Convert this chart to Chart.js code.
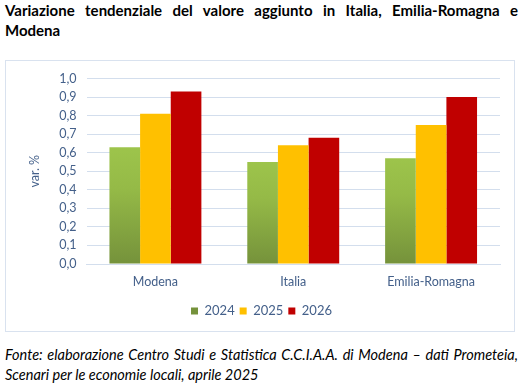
<!DOCTYPE html>
<html>
<head>
<meta charset="utf-8">
<script src="https://cdn.jsdelivr.net/npm/chart.js@4.4.1/dist/chart.umd.min.js"></script>
<style>
    body { margin: 0; background: #fff; width: 522px; height: 390px; position: relative; overflow: hidden; font-family: Lato, 'Open Sans', sans-serif; }
    .title { position: absolute; left: 5px; top: 1px; width: 513px; font-weight: bold; font-size: 15px; line-height: 19.5px; color: #000; }
    .justify { text-align: justify; text-align-last: justify; }
    .chart-box { position: absolute; left: 5px; top: 60px; width: 508px; height: 270px; border: 1px solid #D9E2EF; }
    .footer { position: absolute; left: 5px; top: 345px; width: 513px; font-style: italic; font-size: 14.5px; line-height: 20px; color: #000; }
</style>
</head>
<body>
<div class="title">
    <div class="justify">Variazione tendenziale del valore aggiunto in Italia, Emilia-Romagna e</div>
    <div>Modena</div>
</div>
<div class="chart-box"><canvas id="chart" width="508" height="270"></canvas></div>
<div class="footer">
    <div class="justify">Fonte: elaborazione Centro Studi e Statistica C.C.I.A.A. di Modena – dati Prometeia,</div>
    <div>Scenari per le economie locali, aprile 2025</div>
</div>
<script>
// Data
const categories = ['Modena', 'Italia', 'Emilia-Romagna'];
const years = ['2024', '2025', '2026'];
const values2024 = [0.63, 0.55, 0.57];
const values2025 = [0.81, 0.64, 0.75];
const values2026 = [0.93, 0.68, 0.90];
const yTicks = [0, 0.1, 0.2, 0.3, 0.4, 0.5, 0.6, 0.7, 0.8, 0.9, 1.0];

const textColor = '#44608A';
const gridColor = '#D3DEED';

// green bars get a light-to-dark gradient per bar
function greenFill(context) {
    const chart = context.chart;
    if (!chart.chartArea || context.raw === undefined) return '#8AAE46';
    const yScale = chart.scales.y;
    const top = yScale.getPixelForValue(context.raw);
    const bottom = yScale.getPixelForValue(0);
    if (!isFinite(top) || !isFinite(bottom) || top === bottom) return '#8AAE46';
    const g = chart.ctx.createLinearGradient(0, top, 0, bottom);
    g.addColorStop(0, '#9DC44B');
    g.addColorStop(0.35, '#95BA47');
    g.addColorStop(1, '#75923B');
    return g;
}

const ctx = document.getElementById('chart');
new Chart(ctx.getContext('2d'), {
    type: 'bar',
    data: {
        labels: categories,
        datasets: [
            { label: years[0], data: values2024, backgroundColor: greenFill },
            { label: years[1], data: values2025, backgroundColor: '#FFC000' },
            { label: years[2], data: values2026, backgroundColor: '#C00000' }
        ]
    },
    options: {
        responsive: false,
        animation: false,
        layout: { padding: { left: 17, right: 14, top: 14.5, bottom: 3.5 } },
        datasets: {
            bar: { categoryPercentage: 0.667, barPercentage: 1.0 }
        },
        plugins: {
            tooltip: { enabled: false },
            legend: {
                position: 'bottom',
                labels: {
                    boxWidth: 7,
                    boxHeight: 7,
                    padding: 5,
                    color: textColor,
                    font: { family: 'Lato', size: 13 }
                }
            }
        },
        scales: {
            x: {
                grid: { display: false },
                border: { color: gridColor },
                ticks: { color: textColor, padding: 2, font: { family: 'Lato', size: 12.5 } },
                afterFit: function(scale) { scale.height = 35.5; }
            },
            y: {
                min: 0,
                max: 1,
                afterBuildTicks: function(scale) {
                    scale.ticks = yTicks.map(v => ({ value: v }));
                },
                grid: { color: gridColor, drawTicks: false },
                border: { display: false },
                ticks: {
                    color: textColor,
                    padding: 10,
                    font: { family: 'Lato', size: 12.5 },
                    callback: v => v.toFixed(1).replace('.', ',')
                },
                title: {
                    display: true,
                    text: 'var. %',
                    color: textColor,
                    font: { family: 'Lato', size: 12.5 },
                    padding: { top: 4, bottom: 4 }
                },
                afterFit: function(scale) { scale.width = 63.5; }
            }
        }
    }
});
</script>
</body>
</html>
